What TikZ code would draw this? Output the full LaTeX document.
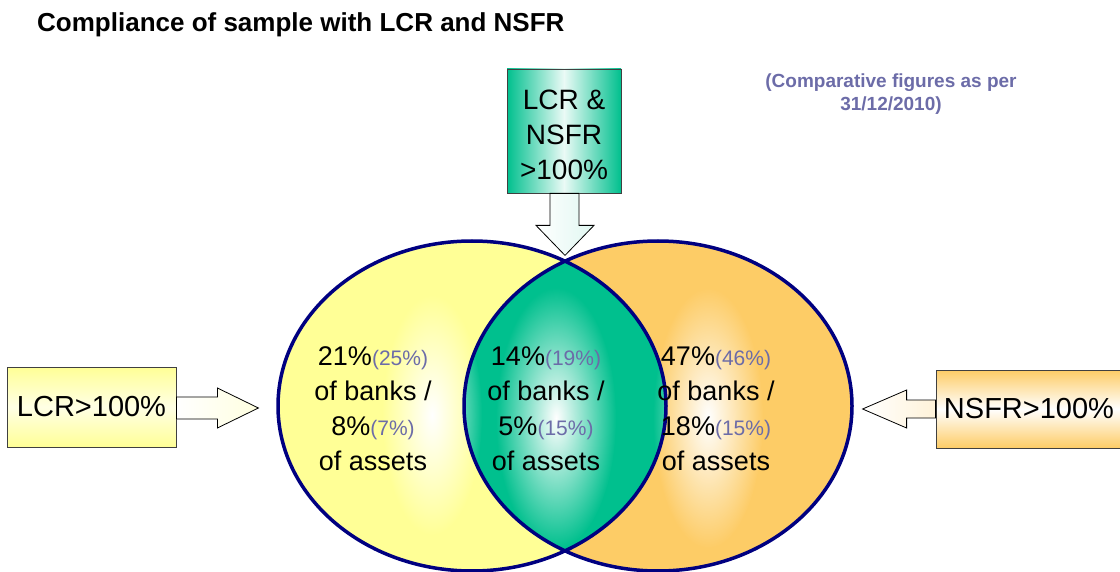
\documentclass[tikz,border=0pt]{standalone}
\usepackage{fontspec}
\setmainfont{Liberation Sans}
\usetikzlibrary{positioning}
\usetikzlibrary{fadings}
\definecolor{lcrfill}{RGB}{255,255,150}
\definecolor{nsfrfill}{RGB}{253,204,102}
\definecolor{bothfill}{RGB}{0,192,142}
\definecolor{vennline}{RGB}{0,0,128}
\definecolor{prevcol}{RGB}{108,108,168}
\tikzfading[name=glowfade,inner color=transparent!0,outer color=transparent!100]
% figures of the previous period, set smaller
\newcommand{\prevfig}[1]{{\fontsize{21}{35}\selectfont\color{prevcol}(#1)}}

\begin{document}
\begin{tikzpicture}[x=1pt,y=-1pt,
  box node/.style={rectangle,draw=black!75,line width=0.8pt,align=center,font=\fontsize{29}{35}\selectfont},
  block arrow/.style={draw=black,line width=0.8pt},
  venn line/.style={draw=vennline,line width=3.5pt},
  share node/.style={align=center,font=\fontsize{27}{35}\selectfont},
  glow/.style={fill=white,path fading=glowfade}]

  \useasboundingbox (0,0) rectangle (1120,572);

  \node[anchor=west,inner sep=0pt,font=\bfseries\fontsize{26}{30}\selectfont] (title) at (37,25) {Compliance of sample with LCR and NSFR};
  \node[align=center,text=prevcol,font=\bfseries\fontsize{19}{23}\selectfont] (note) at (891,94) {(Comparative figures as per\\31/12/2010)};

  % the two sets and their overlap
  \coordinate (cl) at (472,406);
  \coordinate (cr) at (658,406);
  \fill[lcrfill] (cl) ellipse [x radius=194,y radius=165];
  \fill[nsfrfill] (cr) ellipse [x radius=194,y radius=165];
  \begin{scope}
    \clip (cl) ellipse [x radius=194,y radius=165];
    \fill[bothfill] (cr) ellipse [x radius=194,y radius=165];
  \end{scope}
  \fill[glow] (432,415) ellipse [x radius=50,y radius=120];
  \fill[glow] (556,418) ellipse [x radius=60,y radius=130];
  \fill[glow] (708,418) ellipse [x radius=55,y radius=130];
  \draw[venn line] (cl) ellipse [x radius=194,y radius=165];
  \draw[venn line] (cr) ellipse [x radius=194,y radius=165];

  \node[share node] (onlylcr) at (373,409) {21\%\prevfig{25\%}\\of banks /\\8\%\prevfig{7\%}\\of assets};
  \node[share node] (both) at (546,409) {14\%\prevfig{19\%}\\of banks /\\5\%\prevfig{15\%}\\of assets};
  \node[share node] (onlynsfr) at (716,409) {47\%\prevfig{46\%}\\of banks /\\18\%\prevfig{15\%}\\of assets};

  % boxes with their block arrows
  \node[box node,minimum width=169,minimum height=80,top color=lcrfill,bottom color=lcrfill,middle color=lcrfill!25] (lcr) at (91.5,407) {LCR>100\%};
  \node[box node,minimum width=186,minimum height=78,top color=nsfrfill,bottom color=nsfrfill,middle color=white] (nsfr) at (1029,409) {NSFR>100\%};
  \node[box node,minimum width=114,minimum height=124,left color=bothfill,right color=bothfill,middle color=bothfill!8] (lcrnsfr) at (564,131) {};
  \node[align=center,font=\fontsize{28}{35}\selectfont] (lcrnsfrtext) at ([yshift=-4pt]lcrnsfr.center) {LCR \&\\NSFR\\>100\%};

  \draw[block arrow,left color=white,right color=lcrfill!30] ([yshift=10pt]lcr.east) -- ++(41,0) -- ++(0,-9) -- ++(41,20) -- ++(-41,20) -- ++(0,-9) -- ++(-41,0) -- cycle;
  \draw[block arrow,left color=white,right color=nsfrfill!25] ([yshift=9pt]nsfr.west) -- ++(-29,0) -- ++(0,-10) -- ++(-44,19) -- ++(44,19) -- ++(0,-10) -- ++(29,0) -- cycle;
  \draw[block arrow,left color=white,right color=bothfill!12] ([xshift=-14pt]lcrnsfr.south) -- ++(0,32) -- ++(-14,0) -- ++(29,30) -- ++(29,-30) -- ++(-15,0) -- ++(0,-32) -- cycle;

\end{tikzpicture}
\end{document}
